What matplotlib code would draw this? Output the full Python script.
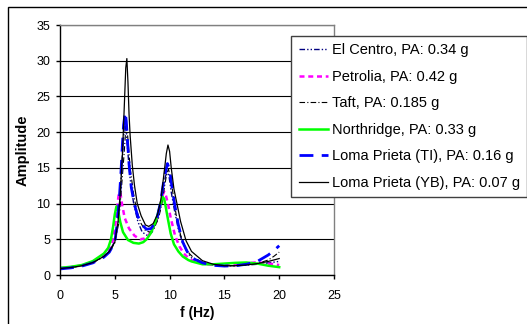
import matplotlib
matplotlib.use("Agg")
import matplotlib.pyplot as plt
from matplotlib.patches import Rectangle

plt.rcParams['font.family'] = ['Liberation Sans', 'DejaVu Sans']

# --- data (frequency in Hz, amplitude) ---
el_centro_f = [0, 1, 2, 3, 4, 4.5, 5, 5.3, 5.5, 5.7, 5.9, 6.05, 6.2, 6.4, 6.7, 7.1, 7.5, 8.0, 8.4,
               8.8, 9.1, 9.4, 9.6, 9.78, 9.95, 10.15, 10.45, 10.8, 11.2, 11.6, 12, 13, 14, 15, 16, 17, 18, 19, 20]
el_centro_a = [0.9, 1.05, 1.3, 1.75, 2.6, 3.3, 4.7, 7.2, 11.5, 17, 21.5, 20, 17, 13.5, 10.2, 7.5, 6.0, 5.5, 6.0,
               7.3, 9.0, 11.8, 13.7, 14.5, 13.8, 11.6, 9.0, 6.4, 4.4, 3.2, 2.4, 1.7, 1.4, 1.3, 1.3, 1.4, 1.5, 1.7, 1.9]

petrolia_f = [0, 1, 2, 3, 4, 4.5, 4.8, 5.05, 5.2, 5.35, 5.5, 5.65, 5.9, 6.3, 6.8, 7.3, 7.7, 8.1, 8.5,
              8.8, 9.1, 9.3, 9.5, 9.65, 9.85, 10.1, 10.5, 10.9, 11.3, 11.7, 12, 13, 14, 15, 16, 17, 18, 19, 20]
petrolia_a = [0.95, 1.1, 1.35, 1.85, 2.8, 3.6, 4.7, 7.0, 9.3, 11.2, 11.6, 10.0, 8.0, 6.5, 5.5, 5.0, 5.1, 5.6, 6.6,
              7.8, 9.4, 10.9, 11.7, 11.2, 10.0, 8.0, 5.5, 4.0, 3.0, 2.4, 2.1, 1.6, 1.4, 1.35, 1.4, 1.6, 1.8, 1.6, 1.4]

taft_f = [0, 1, 2, 3, 4, 4.5, 5, 5.35, 5.6, 5.85, 6.05, 6.2, 6.4, 6.7, 7.0, 7.4, 7.8, 8.2, 8.6,
          9.0, 9.3, 9.55, 9.75, 9.9, 10.1, 10.35, 10.6, 11.0, 11.4, 11.8, 12.2, 13, 14, 15, 16, 17, 18, 19, 19.5, 20]
taft_a = [0.9, 1.05, 1.3, 1.75, 2.55, 3.2, 4.5, 7.2, 12, 17, 21.5, 19, 15, 11.5, 9.0, 7.2, 6.2, 6.0, 6.6,
          8.0, 10.0, 12.5, 14.3, 14.8, 13.5, 11.0, 8.4, 5.6, 4.0, 3.0, 2.4, 1.8, 1.4, 1.3, 1.3, 1.4, 1.6, 2.1, 2.6, 3.2]

northridge_f = [0, 1, 2, 3, 4, 4.4, 4.65, 4.85, 5.0, 5.15, 5.3, 5.5, 5.75, 6.2, 6.7, 7.2, 7.6, 7.9, 8.3,
                8.6, 8.9, 9.1, 9.35, 9.5, 9.65, 9.85, 10.1, 10.4, 10.8, 11.2, 11.7, 12, 13, 14, 15, 16, 17, 18, 19, 20]
northridge_a = [1.0, 1.15, 1.4, 1.95, 3.0, 3.8, 5.0, 6.8, 8.5, 9.6, 9.0, 7.4, 6.0, 4.9, 4.5, 4.4, 4.6, 5.0, 5.9,
                7.0, 8.4, 9.6, 10.9, 10.7, 9.5, 7.8, 5.8, 4.3, 3.3, 2.6, 2.1, 1.9, 1.5, 1.5, 1.6, 1.7, 1.75, 1.6, 1.3, 1.1]

loma_ti_f = [0, 1, 2, 3, 4, 4.5, 5, 5.2, 5.38, 5.55, 5.7, 5.8, 5.95, 6.05, 6.15, 6.3, 6.5, 6.77, 7.1, 7.5,
             7.9, 8.3, 8.8, 9.15, 9.5, 9.8, 10.0, 10.2, 10.45, 10.8, 11.2, 11.6, 12, 13, 14, 15, 16, 17, 18, 19, 19.5, 20]
loma_ti_a = [0.85, 1.0, 1.25, 1.7, 2.5, 3.2, 4.6, 7.0, 10.0, 14.0, 18.5, 21.0, 22.8, 21.5, 19.0, 15.5, 12.3, 10.0, 8.2, 7.0,
             6.4, 6.5, 7.6, 10.0, 13.5, 15.6, 14.8, 12.5, 10.0, 7.0, 4.6, 3.3, 2.4, 1.7, 1.35, 1.25, 1.3, 1.5, 1.9, 2.8, 3.4, 4.1]

loma_yb_f = [0, 1, 2, 3, 4, 4.5, 5, 5.3, 5.5, 5.7, 5.85, 6.0, 6.1, 6.2, 6.3, 6.4, 6.6, 6.8, 7.05, 7.4, 7.8,
             8.1, 8.5, 8.9, 9.2, 9.55, 9.7, 9.85, 10.0, 10.15, 10.4, 10.67, 11.0, 11.5, 12, 13, 14, 15, 16, 17, 18, 19, 19.5, 20]
loma_yb_a = [0.9, 1.05, 1.3, 1.75, 2.6, 3.3, 4.6, 7.5, 11.5, 17, 23, 29, 30.3, 27, 22.5, 19.5, 15.3, 12.5, 10.0, 8.3, 7.0,
             6.8, 7.2, 8.5, 10.5, 15.0, 17.0, 18.2, 17.3, 15.0, 12.0, 10.0, 7.5, 4.8, 3.3, 2.0, 1.5, 1.3, 1.3, 1.4, 1.6, 1.9, 2.1, 2.3]

labels = ['El Centro, PA: 0.34 g', 'Petrolia, PA: 0.42 g', 'Taft, PA: 0.185 g',
          'Northridge, PA: 0.33 g', 'Loma Prieta (TI), PA: 0.16 g', 'Loma Prieta (YB), PA: 0.07 g']

# --- figure ---
fig = plt.figure(figsize=(5.27, 3.24), dpi=100)
ax = fig.add_axes([60 / 527, 1 - 275 / 324, 274 / 527, 250 / 324])

# outer chart border (runs off the right and bottom edge)
fig.patches.append(Rectangle((8 / 527, -0.1), 1.2, 1 - 7 / 324 + 0.1, transform=fig.transFigure,
                             fill=False, edgecolor='black', linewidth=1.0, zorder=0))

ax.plot(el_centro_f, el_centro_a, color='#000080', linestyle=(0, (4, 1.5, 1, 1.5, 1, 1.5)), linewidth=1.0, label=labels[0])
ax.plot(petrolia_f, petrolia_a, color='#ff00ff', linestyle=(0, (2, 1.5)), linewidth=1.8, label=labels[1])
ax.plot(taft_f, taft_a, color='black', linestyle=(0, (5, 2, 1, 2)), linewidth=0.8, label=labels[2])
ax.plot(northridge_f, northridge_a, color='#00ff00', linestyle='-', linewidth=1.8, label=labels[3])
ax.plot(loma_ti_f, loma_ti_a, color='#0000ff', linestyle=(0, (5, 3)), linewidth=2.0, label=labels[4])
ax.plot(loma_yb_f, loma_yb_a, color='black', linestyle='-', linewidth=0.9, label=labels[5])

ax.set_xlim(0, 25)
ax.set_ylim(0, 35)
ax.set_xticks(range(0, 26, 5))
ax.set_yticks(range(0, 36, 5))
ax.yaxis.grid(True, color='black', linewidth=0.8)
ax.set_axisbelow(True)
for side in ['top', 'right']:
    ax.spines[side].set_color('#808080')
    ax.spines[side].set_linewidth(1.0)
for side in ['left', 'bottom']:
    ax.spines[side].set_color('black')
    ax.spines[side].set_linewidth(1.0)
ax.tick_params(direction='out', length=3, width=1, labelsize=9, colors='black')
ax.tick_params(axis='x', pad=8)
ax.tick_params(axis='y', pad=4)

ax.set_xlabel('f (Hz)', fontsize=10, fontweight='bold', labelpad=3)
ax.set_ylabel('Amplitude', fontsize=10.5, fontweight='bold', labelpad=5)

leg = ax.legend(loc='upper right', bbox_to_anchor=(1.0, 1 - 36 / 324), bbox_transform=fig.transFigure,
                fontsize=10.5, frameon=True, fancybox=False, framealpha=1, edgecolor='#404040',
                borderaxespad=0, borderpad=0.5, labelspacing=0.86, handlelength=2.0, handletextpad=0.25)
leg.get_frame().set_linewidth(1.0)

plt.savefig('out.png', dpi=100)
